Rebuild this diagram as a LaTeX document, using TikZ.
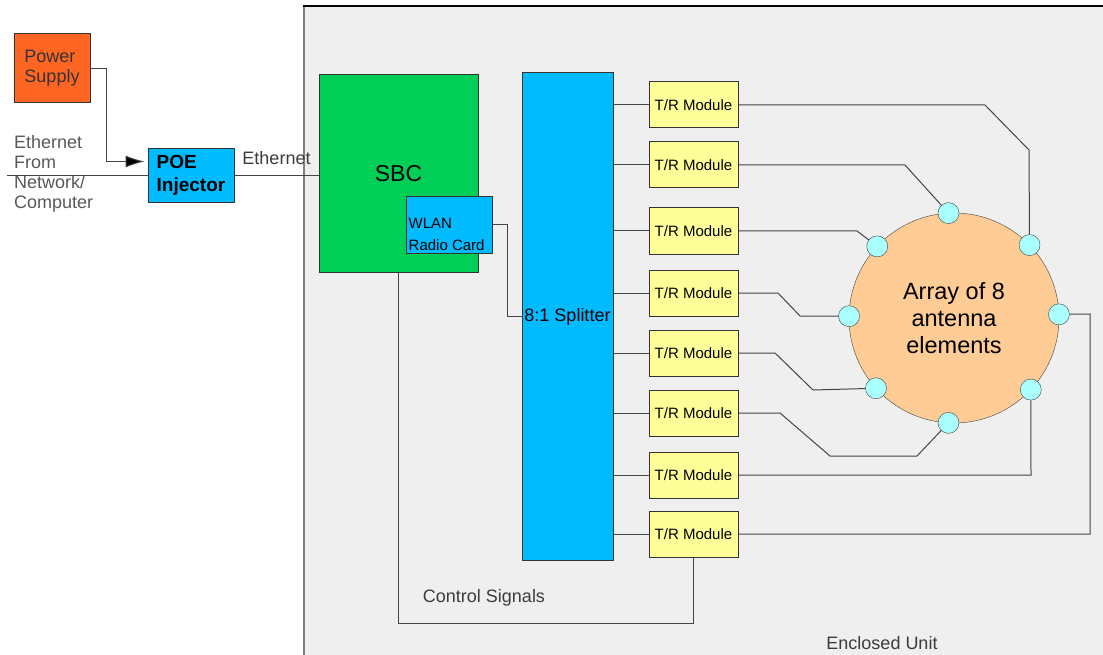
\documentclass[tikz,border=0pt]{standalone}
\usepackage{fontspec}
\setmainfont{Liberation Sans}
\usetikzlibrary{arrows.meta}
\definecolor{psorange}{RGB}{255,102,36}
\definecolor{boxcyan}{RGB}{0,187,255}
\definecolor{sbcgreen}{RGB}{0,206,86}
\definecolor{modyellow}{RGB}{255,255,153}
\definecolor{peach}{RGB}{255,204,150}
\definecolor{elemcyan}{RGB}{170,255,255}
\definecolor{enclgray}{RGB}{239,239,239}
\definecolor{wiregray}{RGB}{68,68,68}
\definecolor{txtgray}{RGB}{60,60,60}
\begin{document}
\begin{tikzpicture}[x=1pt,y=-1pt,
    box/.style={draw=black!80, line width=1pt, inner sep=0pt},
    wire/.style={draw=wiregray, line width=1pt},
    trmod/.style={box, fill=modyellow, minimum width=89pt, minimum height=46pt,
      font=\fontsize{15}{18}\selectfont},
    elem/.style={circle, draw=black!75, fill=elemcyan, minimum size=21pt, inner sep=0pt},
    note/.style={text=txtgray, inner sep=0pt, font=\fontsize{18}{20}\selectfont}]
  \useasboundingbox (0,0) rectangle (1103,655);
  \fill[white] (0,0) rectangle (1103,655);
  \fill[enclgray] (304,6) rectangle (1103,655);
  \draw[gray, line width=1.5pt] (304,655) -- (304,6);
  \draw[black, line width=2.5pt] (303,6) -- (1103,6);

  \node[box, fill=psorange, minimum width=76pt, minimum height=69pt, align=left,
    text=black!80, font=\fontsize{18}{20}\selectfont] (power) at (52,68.5) {Power\\Supply};
  \node[box, fill=boxcyan, minimum width=86pt, minimum height=54pt, align=left,
    font=\bfseries\fontsize{19}{23}\selectfont] (poe) at (191,175.5) {POE\\Injector};
  \node[note, text=black!65, align=left, anchor=west] (ethin) at (14,174)
    {Ethernet\\From\\Network/\\Computer};
  \coordinate (net) at (7,175.5);

  \node[box, fill=sbcgreen, minimum width=159pt, minimum height=197pt,
    font=\fontsize{23}{27}\selectfont] (sbc) at (398.5,173.5) {SBC};
  \node[box, fill=boxcyan, minimum width=86pt, minimum height=56pt,
    label={[anchor=south west, inner sep=3pt, align=left,
      font=\fontsize{15}{22}\selectfont]south west:{WLAN\\Radio Card}}] (wlan) at (449,225) {};
  \node[box, fill=boxcyan, minimum width=91pt, minimum height=487pt,
    font=\fontsize{18}{20}\selectfont] (splitter) at (567.5,316.5) {8:1 Splitter};

  \foreach \i/\y in {1/105,2/165,3/231,4/293,5/353,6/413,7/475,8/534} {
    \node[trmod] (tr\i) at (693.5,\y) {T/R Module};
    \draw[wire] (splitter.east |- tr\i) -- (tr\i);
  }

  \node[circle, draw=black!75, fill=peach, minimum size=210pt, inner sep=0pt, outer sep=0pt,
    align=center, font=\fontsize{23.5}{27}\selectfont] (array) at (954,318)
    {Array of 8\\antenna\\elements};
  \foreach \i/\a in {1/93,2/44,3/2,4/-43,5/-93,6/-138,7/179,8/137}
    \node[elem] (ant\i) at (array.\a) {};

  \draw[wire, -{Latex[length=19pt,width=12pt,fill=black]}, shorten >=3pt]
    (power.east) -| (106,161.5) -- ([yshift=14pt]poe.west);
  \draw[wire] (net) -- (poe);
  \draw[wire] (poe.east) -- node[note, above=10pt] {Ethernet} (poe.east -| sbc.west);
  \draw[wire] (wlan.east) -| (507,316.5) -- (splitter.west);

  \draw[wire] (tr1) -- (985,105) -- (1029,150) -- (ant2);
  \draw[wire] (tr2) -- (905,165) -- (ant1);
  \draw[wire] (tr3) -- (857,231) -- (ant8);
  \draw[wire] (tr4) -- (778,293) -- (800,316) -- (ant7);
  \draw[wire] (tr5) -- (775,353) -- (813,390) -- (ant6);
  \draw[wire] (tr6) -- (780,413) -- (830,456) -- (917,456) -- (ant5);
  \draw[wire] (tr7) -- (1031,475) -- (ant4);
  \draw[wire] (tr8) -- (1090,534) -- (1090,314) -- (ant3);

  \coordinate (ctrl) at (398.5,623);
  \draw[wire] (sbc.south) -- (ctrl) -| (tr8.south);
  \node[note] (ctrltext) at (484,598) {Control Signals};
  \node[note] (encltext) at (882,643) {Enclosed Unit};
\end{tikzpicture}
\end{document}
